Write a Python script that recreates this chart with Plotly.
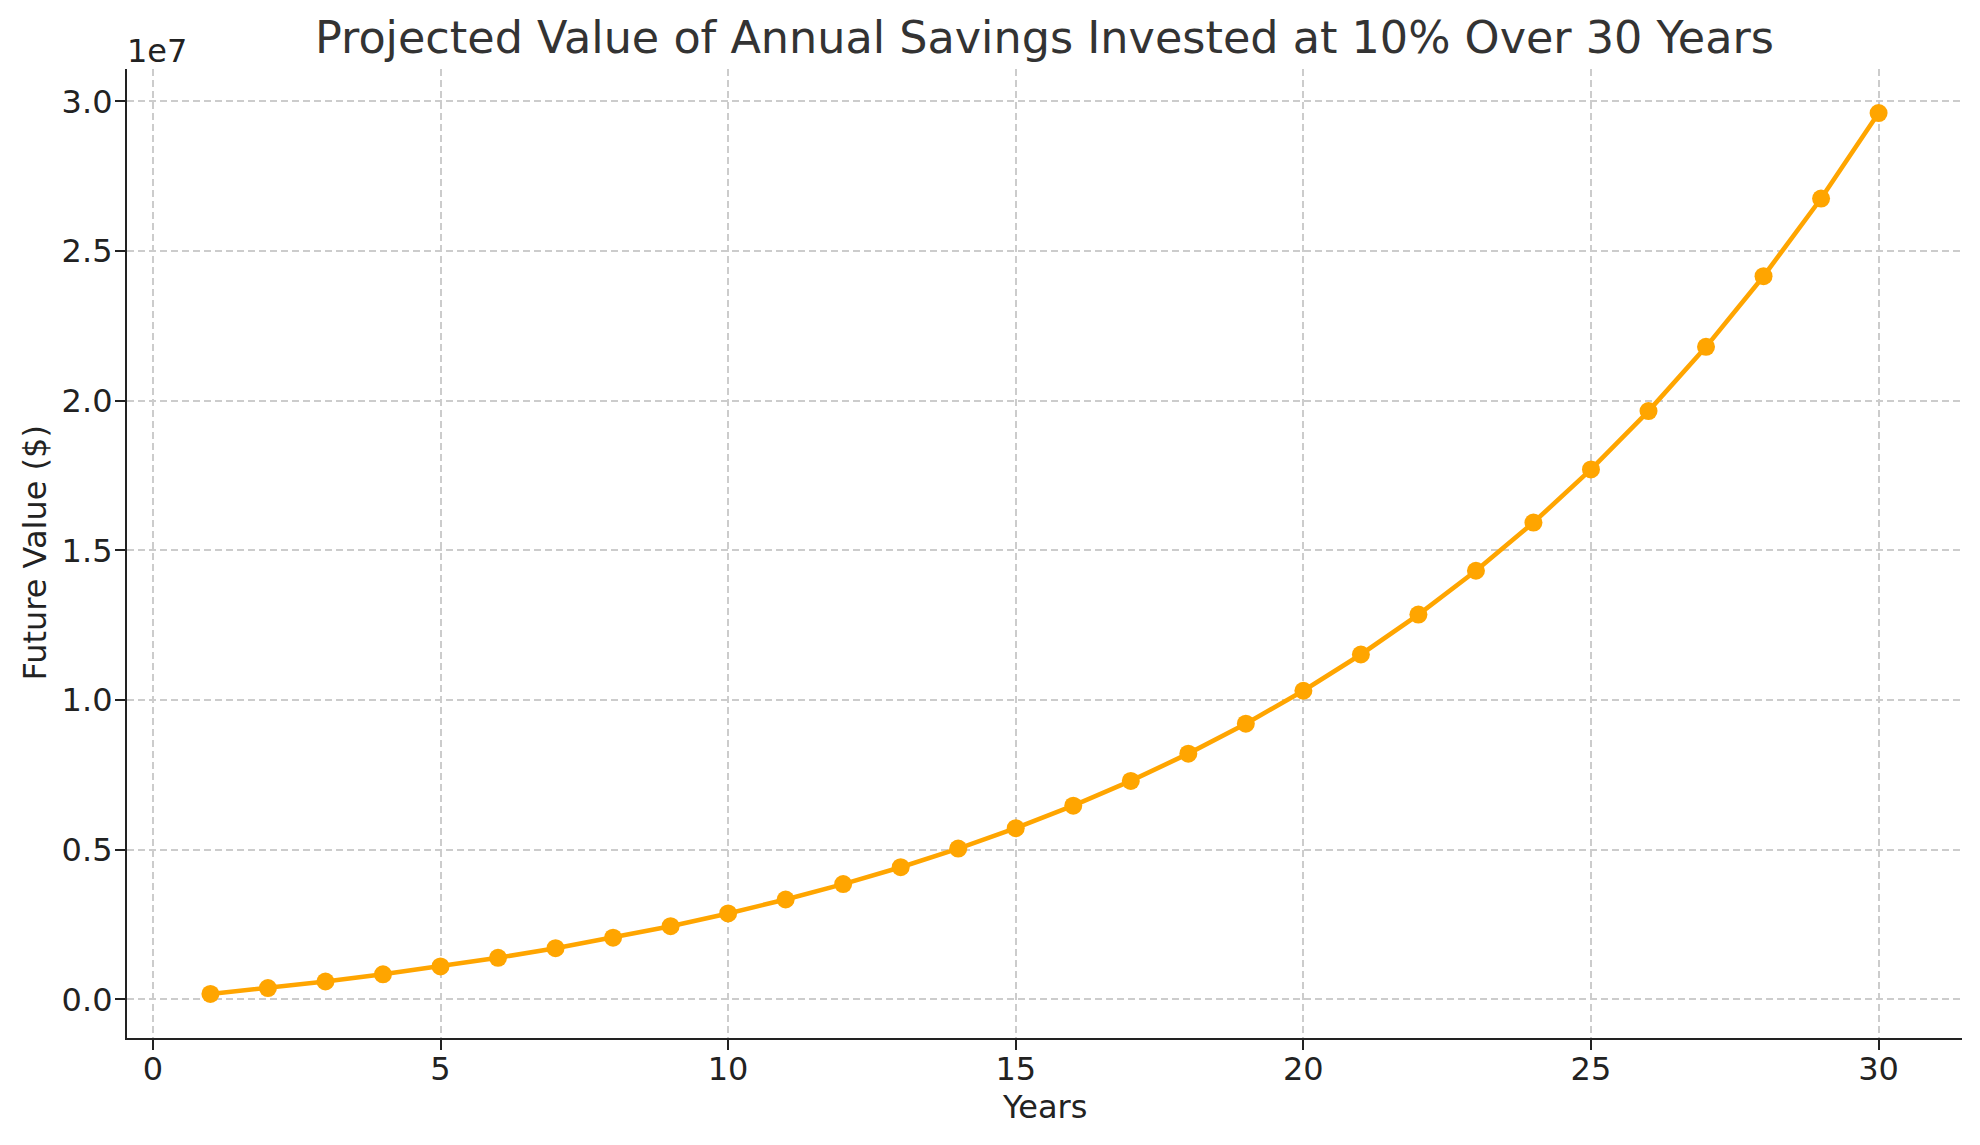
import plotly.graph_objects as go

years = list(range(1, 31))
future_value = [180000, 378000, 595800, 835380, 1098918, 1388810, 1707691, 2058460,
                2444306, 2868736, 3335610, 3849171, 4414088, 5035497, 5719047, 6470951,
                7298046, 8207851, 9208636, 10309500, 11520450, 12852495, 14317744,
                15929519, 17702471, 19652718, 21797990, 24157789, 26753568, 29608925]

x_ticks = [0, 5, 10, 15, 20, 25, 30]
y_ticks = [0, 5e6, 1e7, 1.5e7, 2e7, 2.5e7, 3e7]
y_tick_text = ["0.0", "0.5", "1.0", "1.5", "2.0", "2.5", "3.0"]

title = "Projected Value of Annual Savings Invested at 10% Over 30 Years"
x_label = "Years"
y_label = "Future Value ($)"
FONT = "DejaVu Sans"
# page body has an 8px margin; compensate so the plot area lands where the reference has it
W, H = 1964, 1129
L, R, T, B = 119, 10, 61, 99

xmin, xmax = min(years), max(years)
xpad = (xmax - xmin) * 0.05
ymin, ymax = min(future_value), max(future_value)
ypad = (ymax - ymin) * 0.05

fig = go.Figure()
fig.add_trace(go.Scatter(
    x=years, y=future_value, mode="lines+markers",
    line=dict(color="#FFA500", width=4.6),
    marker=dict(color="#FFA500", size=18),
    showlegend=False,
))

axis_common = dict(
    showline=True, linecolor="#222222", linewidth=2.2, mirror=False,
    ticks="outside", ticklen=10, tickwidth=2.2, tickcolor="#222222",
    showgrid=True, gridcolor="#cccccc", gridwidth=1.8, griddash="7px,4px",
    zeroline=False,
    tickfont=dict(family=FONT, size=32, color="#222222"),
)

fig.update_layout(
    width=W, height=H,
    margin=dict(l=L, r=R, t=T, b=B, pad=0, autoexpand=False),
    paper_bgcolor="white", plot_bgcolor="white",
    font=dict(family=FONT, color="#222222"),
    title=dict(text=title, x=(L + (W - R)) / 2 / W, xanchor="center",
               yref="container", y=1 - 29 / H, yanchor="middle",
               font=dict(family=FONT, size=44.5, color="#333333")),
    xaxis=dict(axis_common, range=[xmin - xpad, xmax + xpad], tickvals=x_ticks,
               ticklabelstandoff=-9),
    yaxis=dict(axis_common, range=[ymin - ypad, ymax + ypad],
               tickvals=y_ticks, ticktext=y_tick_text, ticklabelstandoff=-4),
)

fig.add_annotation(text=x_label, xref="paper", yref="paper", x=0.5, y=0,
                   xanchor="center", yanchor="middle", yshift=-69, showarrow=False,
                   font=dict(family=FONT, size=32, color="#222222"))
fig.add_annotation(text=y_label, xref="paper", yref="paper", x=0, y=0.5,
                   xanchor="center", yanchor="middle", xshift=-93, textangle=-90,
                   showarrow=False, font=dict(family=FONT, size=32, color="#222222"))
fig.add_annotation(text="1e7", xref="paper", yref="paper", x=0, y=1,
                   xanchor="left", yanchor="bottom", xshift=-2, yshift=-3, showarrow=False,
                   font=dict(family=FONT, size=32, color="#222222"))

fig.write_html("out.html")
